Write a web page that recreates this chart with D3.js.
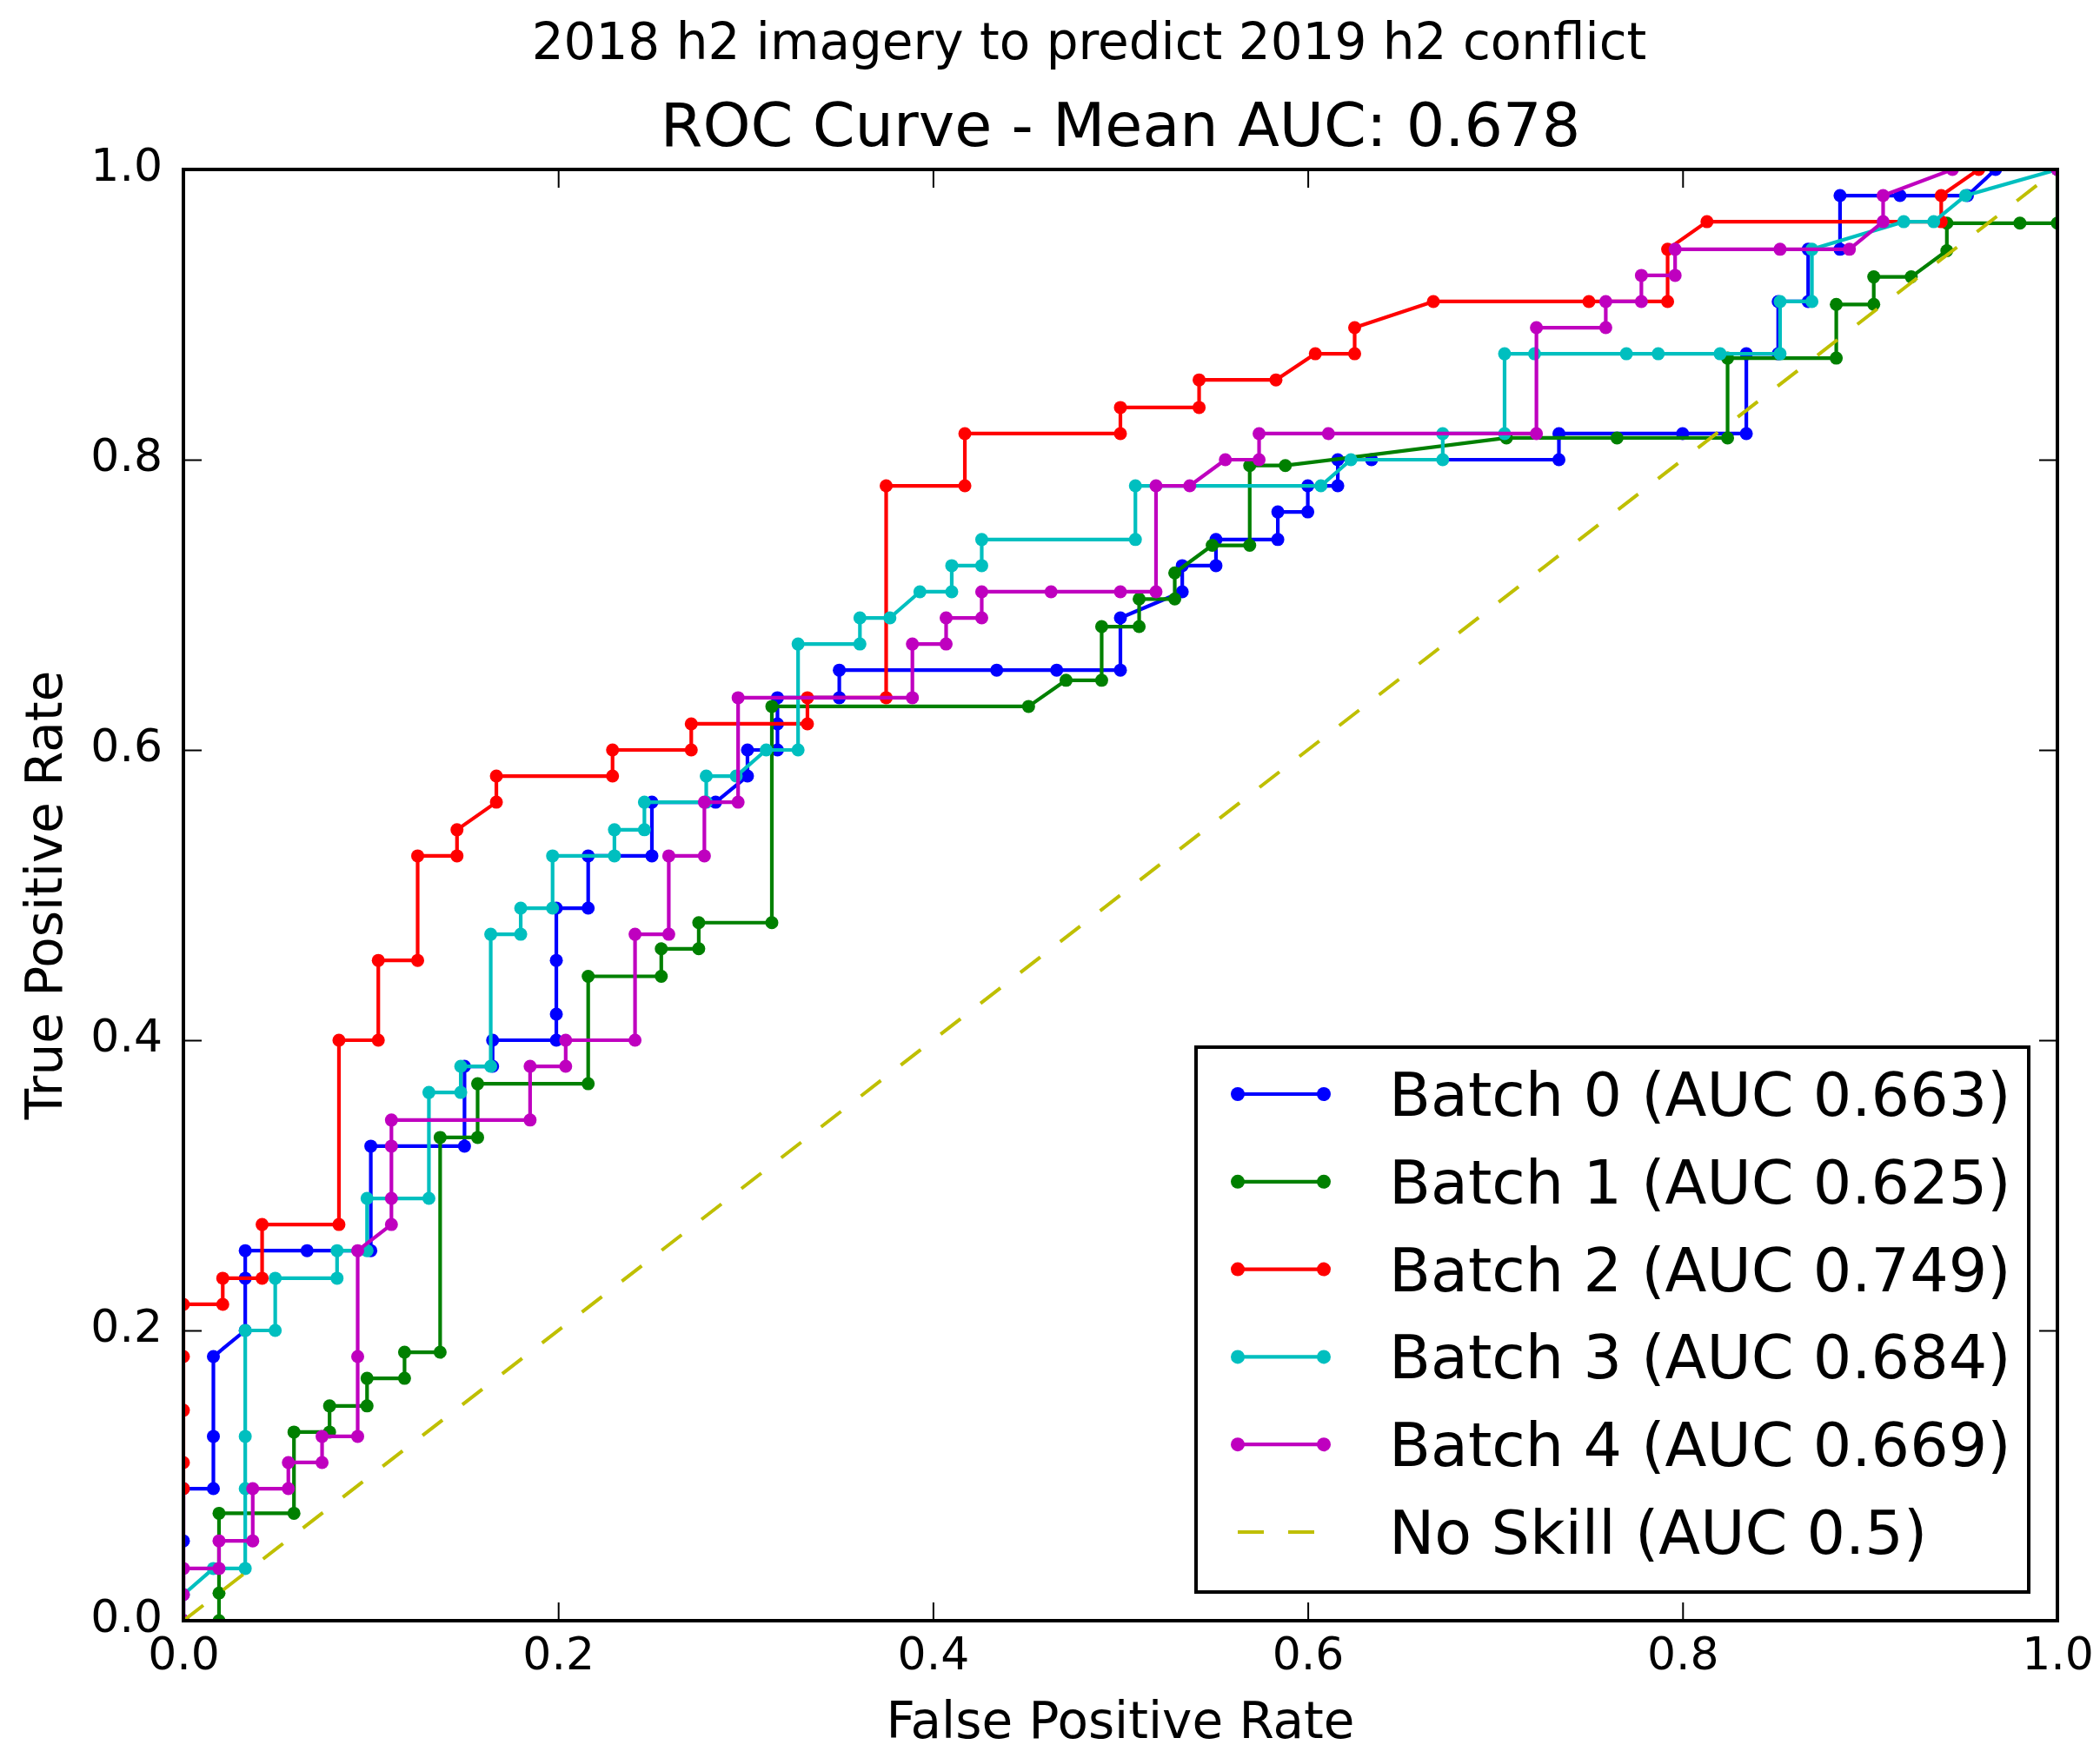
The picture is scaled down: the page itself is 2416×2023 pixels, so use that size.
<!DOCTYPE html>
<html>
<head>
<meta charset="utf-8">
<script src="https://cdn.jsdelivr.net/npm/d3@7"></script>
<style>
  body { margin: 0; background: #fff; }
  svg { display: block; font-family: "DejaVu Sans", sans-serif; }
</style>
</head>
<body>
<div id="chart"></div>
<script>
"use strict";

// ROC points [fpr, tpr] per batch
const batch0 = [[0,0],[0,0.055],[0,0.091],[0.016,0.091],[0.016,0.127],[0.016,0.182],[0.033,0.2],[0.033,0.236],[0.033,0.255],[0.066,0.255],[0.1,0.255],[0.1,0.327],[0.15,0.327],[0.15,0.382],[0.165,0.382],[0.165,0.4],[0.199,0.4],[0.199,0.418],[0.199,0.455],[0.199,0.491],[0.216,0.491],[0.216,0.527],[0.25,0.527],[0.25,0.564],[0.284,0.564],[0.301,0.582],[0.301,0.6],[0.317,0.6],[0.317,0.618],[0.317,0.636],[0.35,0.636],[0.35,0.655],[0.434,0.655],[0.466,0.655],[0.5,0.655],[0.5,0.691],[0.533,0.709],[0.533,0.727],[0.551,0.727],[0.551,0.745],[0.584,0.745],[0.584,0.764],[0.6,0.764],[0.6,0.782],[0.616,0.782],[0.616,0.8],[0.634,0.8],[0.734,0.8],[0.734,0.818],[0.8,0.818],[0.834,0.818],[0.834,0.873],[0.851,0.873],[0.851,0.909],[0.867,0.909],[0.867,0.945],[0.884,0.945],[0.884,0.982],[0.916,0.982],[0.952,0.982],[0.967,1],[1,1]];
const batch1 = [[0,0],[0.019,0],[0.019,0.019],[0.019,0.074],[0.059,0.074],[0.059,0.13],[0.078,0.13],[0.078,0.148],[0.098,0.148],[0.098,0.167],[0.118,0.167],[0.118,0.185],[0.137,0.185],[0.137,0.333],[0.157,0.333],[0.157,0.37],[0.216,0.37],[0.216,0.444],[0.255,0.444],[0.255,0.463],[0.275,0.463],[0.275,0.481],[0.314,0.481],[0.314,0.63],[0.451,0.63],[0.471,0.648],[0.49,0.648],[0.49,0.685],[0.51,0.685],[0.51,0.704],[0.529,0.704],[0.529,0.722],[0.549,0.741],[0.569,0.741],[0.569,0.796],[0.588,0.796],[0.706,0.815],[0.765,0.815],[0.824,0.815],[0.824,0.87],[0.882,0.87],[0.882,0.907],[0.902,0.907],[0.902,0.926],[0.922,0.926],[0.941,0.944],[0.941,0.963],[0.98,0.963],[1,0.963],[1,1]];
const batch2 = [[0,0],[0,0.091],[0,0.109],[0,0.145],[0,0.182],[0,0.218],[0.021,0.218],[0.021,0.236],[0.042,0.236],[0.042,0.273],[0.083,0.273],[0.083,0.4],[0.104,0.4],[0.104,0.455],[0.125,0.455],[0.125,0.527],[0.146,0.527],[0.146,0.545],[0.167,0.564],[0.167,0.582],[0.229,0.582],[0.229,0.6],[0.271,0.6],[0.271,0.618],[0.333,0.618],[0.333,0.636],[0.375,0.636],[0.375,0.782],[0.417,0.782],[0.417,0.818],[0.5,0.818],[0.5,0.836],[0.542,0.836],[0.542,0.855],[0.583,0.855],[0.604,0.873],[0.625,0.873],[0.625,0.891],[0.667,0.909],[0.75,0.909],[0.792,0.909],[0.792,0.945],[0.813,0.964],[0.938,0.964],[0.938,0.982],[0.958,1],[1,1]];
const batch3 = [[0,0],[0,0.018],[0.016,0.036],[0.033,0.036],[0.033,0.091],[0.033,0.127],[0.033,0.2],[0.049,0.2],[0.049,0.236],[0.082,0.236],[0.082,0.255],[0.098,0.255],[0.098,0.291],[0.131,0.291],[0.131,0.364],[0.148,0.364],[0.148,0.382],[0.164,0.382],[0.164,0.473],[0.18,0.473],[0.18,0.491],[0.197,0.491],[0.197,0.527],[0.23,0.527],[0.23,0.545],[0.246,0.545],[0.246,0.564],[0.279,0.564],[0.279,0.582],[0.295,0.582],[0.311,0.6],[0.328,0.6],[0.328,0.673],[0.361,0.673],[0.361,0.691],[0.377,0.691],[0.393,0.709],[0.41,0.709],[0.41,0.727],[0.426,0.727],[0.426,0.745],[0.508,0.745],[0.508,0.782],[0.607,0.782],[0.623,0.8],[0.672,0.8],[0.672,0.818],[0.705,0.818],[0.705,0.873],[0.721,0.873],[0.77,0.873],[0.787,0.873],[0.82,0.873],[0.852,0.873],[0.852,0.909],[0.869,0.909],[0.869,0.945],[0.918,0.964],[0.934,0.964],[0.951,0.982],[1,1]];
const batch4 = [[0,0],[0,0.018],[0,0.036],[0.019,0.036],[0.019,0.055],[0.037,0.055],[0.037,0.091],[0.056,0.091],[0.056,0.109],[0.074,0.109],[0.074,0.127],[0.093,0.127],[0.093,0.182],[0.093,0.255],[0.111,0.273],[0.111,0.291],[0.111,0.327],[0.111,0.345],[0.185,0.345],[0.185,0.382],[0.204,0.382],[0.204,0.4],[0.241,0.4],[0.241,0.473],[0.259,0.473],[0.259,0.527],[0.278,0.527],[0.278,0.564],[0.296,0.564],[0.296,0.636],[0.389,0.636],[0.389,0.673],[0.407,0.673],[0.407,0.691],[0.426,0.691],[0.426,0.709],[0.463,0.709],[0.5,0.709],[0.519,0.709],[0.519,0.782],[0.537,0.782],[0.556,0.8],[0.574,0.8],[0.574,0.818],[0.611,0.818],[0.722,0.818],[0.722,0.891],[0.759,0.891],[0.759,0.909],[0.778,0.909],[0.778,0.927],[0.796,0.927],[0.796,0.945],[0.852,0.945],[0.889,0.945],[0.907,0.964],[0.907,0.982],[0.944,1],[1,1]];
const noSkill = [[0,0],[1,1]];

const seriesNames = ["Batch 0", "Batch 1", "Batch 2", "Batch 3", "Batch 4"];
const seriesAuc = ["0.663", "0.625", "0.749", "0.684", "0.669"];
const seriesColors = ["#0000ff", "#008000", "#ff0000", "#00bfbf", "#bf00bf"];
const noSkillLabel = "No Skill (AUC 0.5)";
const tickValues = [0, 0.2, 0.4, 0.6, 0.8, 1.0];

const W = 2416;
const H = 2023;
const plot = { left: 211, right: 2367, top: 195, bottom: 1865 };

draw();

function draw() {
  const series = [batch0, batch1, batch2, batch3, batch4];

  const x = d3.scaleLinear().domain([0, 1]).range([plot.left, plot.right]);
  const y = d3.scaleLinear().domain([0, 1]).range([plot.bottom, plot.top]);

  const svg = d3
    .select("#chart")
    .append("svg")
    .attr("width", W)
    .attr("height", H);

  svg.append("rect").attr("width", W).attr("height", H).attr("fill", "#fff");

  svg
    .append("clipPath")
    .attr("id", "plot-clip")
    .append("rect")
    .attr("x", plot.left)
    .attr("y", plot.top)
    .attr("width", plot.right - plot.left)
    .attr("height", plot.bottom - plot.top);

  const line = d3
    .line()
    .x((d) => x(d[0]))
    .y((d) => y(d[1]));

  const inner = svg.append("g").attr("clip-path", "url(#plot-clip)");

  // curves, drawn in the same order as the legend
  series.forEach((pts, i) => {
    const g = inner.append("g");
    g.append("path")
      .datum(pts)
      .attr("d", line)
      .attr("fill", "none")
      .attr("stroke", seriesColors[i])
      .attr("stroke-width", 4.2)
      .attr("stroke-linejoin", "round");
    g.selectAll("circle")
      .data(pts)
      .enter()
      .append("circle")
      .attr("cx", (d) => x(d[0]))
      .attr("cy", (d) => y(d[1]))
      .attr("r", 7.5)
      .attr("fill", seriesColors[i]);
  });

  inner
    .append("path")
    .datum(noSkill)
    .attr("d", line)
    .attr("fill", "none")
    .attr("stroke", "#bfbf00")
    .attr("stroke-width", 4)
    .attr("stroke-dasharray", "29,29");

  // axes: ticks point inward on all four sides
  const fmt = d3.format(".1f");
  const tickLen = 21;

  svg
    .append("g")
    .attr("transform", `translate(0,${plot.bottom})`)
    .call(d3.axisBottom(x).tickValues(tickValues).tickFormat(fmt)
      .tickSizeInner(-tickLen).tickSizeOuter(0).tickPadding(19));

  const yAxis = svg
    .append("g")
    .attr("transform", `translate(${plot.left},0)`)
    .call(d3.axisLeft(y).tickValues(tickValues).tickFormat(fmt)
      .tickSizeInner(-tickLen).tickSizeOuter(0).tickPadding(24));

  svg
    .append("g")
    .attr("transform", `translate(0,${plot.top})`)
    .call(d3.axisTop(x).tickValues(tickValues).tickFormat("")
      .tickSizeInner(-tickLen).tickSizeOuter(0));

  svg
    .append("g")
    .attr("transform", `translate(${plot.right},0)`)
    .call(d3.axisRight(y).tickValues(tickValues).tickFormat("")
      .tickSizeInner(-tickLen).tickSizeOuter(0));

  svg.selectAll(".domain").remove();
  svg.selectAll(".tick line").attr("stroke", "#000").attr("stroke-width", 2);
  svg
    .selectAll(".tick text")
    .attr("fill", "#000")
    .style("font-size", "52px")
    .style("font-family", "DejaVu Sans");
  yAxis.selectAll(".tick text").attr("dy", "0.24em");

  svg
    .append("rect")
    .attr("x", plot.left)
    .attr("y", plot.top)
    .attr("width", plot.right - plot.left)
    .attr("height", plot.bottom - plot.top)
    .attr("fill", "none")
    .attr("stroke", "#000")
    .attr("stroke-width", 4);

  // titles and axis labels
  svg
    .append("text")
    .text("2018 h2 imagery to predict 2019 h2 conflict")
    .attr("x", 1253)
    .attr("y", 68)
    .attr("text-anchor", "middle")
    .style("font-size", "58px");

  svg
    .append("text")
    .text("ROC Curve - Mean AUC: 0.678")
    .attr("x", (plot.left + plot.right) / 2)
    .attr("y", 168)
    .attr("text-anchor", "middle")
    .style("font-size", "70px");

  svg
    .append("text")
    .text("False Positive Rate")
    .attr("x", (plot.left + plot.right) / 2)
    .attr("y", 2000)
    .attr("text-anchor", "middle")
    .style("font-size", "58px");

  svg
    .append("text")
    .text("True Positive Rate")
    .attr("text-anchor", "middle")
    .attr("transform", `translate(71,${(plot.top + plot.bottom) / 2}) rotate(-90)`)
    .style("font-size", "58px");

  // legend
  const lg = { left: 1376, top: 1205, right: 2334, bottom: 1832 };
  const rowY0 = 1259;
  const rowStep = 100.8;
  const handle = [1424, 1523];

  const legend = svg.append("g").attr("id", "legend");
  legend
    .append("rect")
    .attr("x", lg.left)
    .attr("y", lg.top)
    .attr("width", lg.right - lg.left)
    .attr("height", lg.bottom - lg.top)
    .attr("fill", "#fff")
    .attr("stroke", "#000")
    .attr("stroke-width", 4);

  const rows = seriesNames.map((n, i) => ({
    label: `${n} (AUC ${seriesAuc[i]})`,
    color: seriesColors[i],
    dashed: false,
  }));
  rows.push({ label: noSkillLabel, color: "#bfbf00", dashed: true });

  const row = legend
    .selectAll(".legend-row")
    .data(rows)
    .enter()
    .append("g")
    .attr("class", "legend-row")
    .attr("transform", (d, i) => `translate(0,${rowY0 + i * rowStep})`);

  row
    .append("line")
    .attr("x1", handle[0])
    .attr("x2", handle[1])
    .attr("stroke", (d) => d.color)
    .attr("stroke-width", 4.2)
    .attr("stroke-dasharray", (d) => (d.dashed ? "30,28" : null));

  row
    .filter((d) => !d.dashed)
    .selectAll("circle")
    .data((d) => handle.map((hx) => ({ hx, color: d.color })))
    .enter()
    .append("circle")
    .attr("cx", (d) => d.hx)
    .attr("r", 8)
    .attr("fill", (d) => d.color);

  row
    .append("text")
    .text((d) => d.label)
    .attr("x", 1598)
    .attr("y", 25)
    .style("font-size", "70px");
}
</script>
</body>
</html>
